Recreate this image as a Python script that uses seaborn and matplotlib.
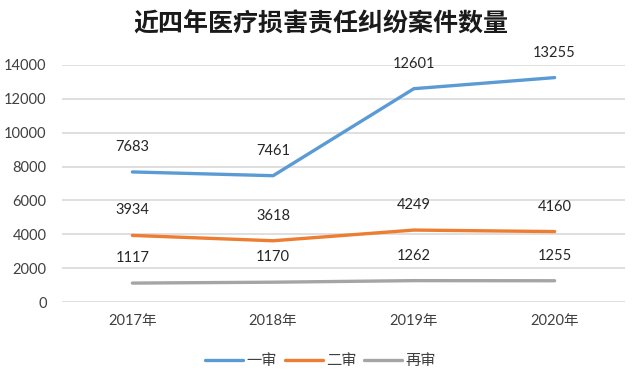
import pandas as pd
import seaborn as sns
import matplotlib.pyplot as plt

years = ["2017年", "2018年", "2019年", "2020年"]
first = [7683, 7461, 12601, 13255]
second = [3934, 3618, 4249, 4160]
retrial = [1117, 1170, 1262, 1255]
series_names = ["一审", "二审", "再审"]
colors = ["#5B9BD5", "#ED7D31", "#A5A5A5"]

df = pd.DataFrame({
    "year": years * 3,
    "count": first + second + retrial,
    "type": [series_names[0]] * 4 + [series_names[1]] * 4 + [series_names[2]] * 4,
})

sns.set_style("white")
plt.rcParams["font.family"] = ["Lato", "Noto Sans CJK SC", "DejaVu Sans"]

fig = plt.figure(figsize=(6.41, 3.82), dpi=100)
ax = fig.add_axes([62 / 641, 1 - 302 / 382, 563 / 641, 237 / 382])

sns.lineplot(data=df, x="year", y="count", hue="type", palette=colors,
             linewidth=2.4, ax=ax, sort=False)

for line in ax.get_lines():
    line.set_solid_capstyle("round")

ax.set_xlim(-0.5, 3.5)
ax.set_ylim(0, 14000)
ax.set_yticks(range(0, 14001, 2000))
ax.yaxis.grid(True, color="#D9D9D9", linewidth=1.2)
ax.set_axisbelow(True)
for s in ax.spines.values():
    s.set_visible(False)
ax.tick_params(axis="y", length=0, pad=11, labelsize=10.5, labelcolor="#404040")
ax.tick_params(axis="x", length=0, pad=9, labelsize=10.5, labelcolor="#404040")
ax.set_xlabel("")
ax.set_ylabel("")

for vals in (first, second, retrial):
    for i, v in enumerate(vals):
        ax.annotate(str(v), (i, v), xytext=(0, 18), textcoords="offset points",
                    ha="center", va="center", fontsize=10.5, color="#262626")

fig.suptitle("近四年医疗损害责任纠纷案件数量", y=1 - 24 / 382, va="center",
             fontsize=18, fontweight="bold", color="#1a1a1a",
             family=["Noto Sans CJK SC", "DejaVu Sans"])

handles, labels = ax.get_legend_handles_labels()
ax.legend_.remove()
fig.legend(handles, labels, loc="center", bbox_to_anchor=(0.5, 1 - 361 / 382),
           ncol=3, frameon=False, fontsize=11, handlelength=2.5,
           handletextpad=0.2, columnspacing=0.5, labelcolor="#404040")

fig.savefig("out.png", dpi=100)
